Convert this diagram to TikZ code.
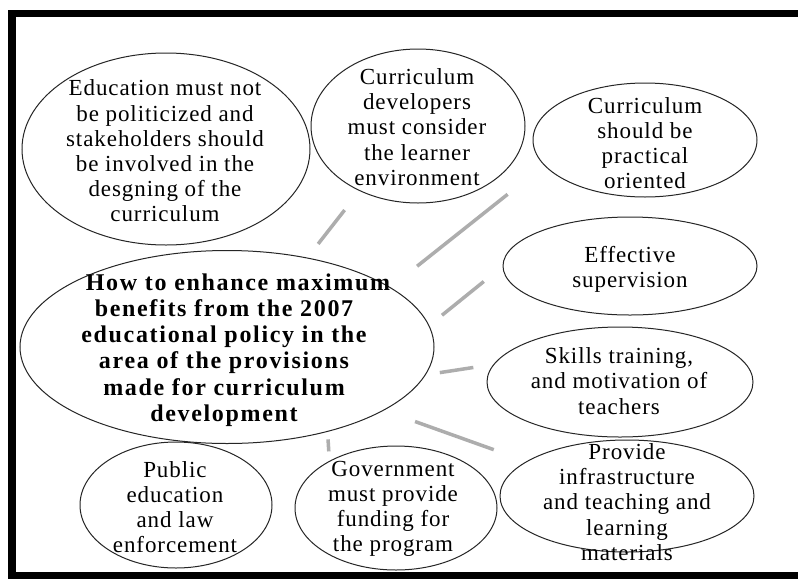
\documentclass[tikz,border=0pt]{standalone}
\usepackage{fontspec}
\setmainfont{Liberation Serif}
\usetikzlibrary{shapes.geometric}
\begin{document}
\begin{tikzpicture}[x=1pt,y=-1pt,
  bub/.style={draw=black!85, line width=1pt, ellipse, inner sep=0pt, outer sep=0pt},
  txt/.style={align=center, inner sep=0pt, font=\fontsize{23}{25.2}\selectfont\addfontfeature{LetterSpace=4}},
  maintxt/.style={align=center, inner sep=0pt, font=\fontsize{24}{26.3}\selectfont\bfseries\addfontfeature{LetterSpace=7}},
  conn/.style={draw=black!32, line width=3.5pt}]
\useasboundingbox (0,0) rectangle (798,579);
\fill[white] (0,0) rectangle (798,579);
% frame
\fill[black] (8,10) rectangle (798,17);
\fill[black] (8,10) rectangle (16,579);
\fill[black] (8,572) rectangle (798,579);
% ellipses
\node[bub, minimum width=288pt, minimum height=192pt] (e1) at (166,149) {};
\node[bub, minimum width=214pt, minimum height=154pt] (e2) at (418,126) {};
\node[bub, minimum width=224pt, minimum height=114pt] (e3) at (645,140) {};
\node[bub, minimum width=254pt, minimum height=98pt] (e4) at (630,266) {};
\node[bub, minimum width=266pt, minimum height=110pt] (e5) at (620,382) {};
\node[bub, minimum width=254pt, minimum height=112pt] (e6) at (627,496) {};
\node[bub, minimum width=414pt, minimum height=193pt] (m) at (227,347) {};
\node[bub, minimum width=192pt, minimum height=126pt] (e8) at (176,505) {};
\node[bub, minimum width=202pt, minimum height=124pt] (e9) at (396,508) {};
% texts
\node[txt] (t1) at (165,151) {Education must not\\be politicized and\\stakeholders should\\be involved in the\\desgning of the\\curriculum};
\node[txt] (t2) at (417,127) {Curriculum\\developers\\must consider\\the learner\\environment};
\node[txt] (t3) at (645,143) {Curriculum\\should be\\practical\\oriented};
\node[txt] (t4) at (630,269) {Effective\\supervision};
\node[txt] (t5) at (619,381) {Skills training,\\and motivation of\\teachers};
\node[txt] (t6) at (627,502) {Provide\\infrastructure\\and teaching and\\learning\\materials};
\node[maintxt] (tm) at (224,350) {\hspace*{28pt}How to enhance maximum\\benefits from the 2007\\educational policy in the\\area of the provisions\\made for curriculum\\development};
\node[txt] (t8) at (175,507) {Public\\education\\and law\\enforcement};
\node[txt] (t9) at (393,509) {Government\\must provide\\funding for\\the program};
% connectors
\draw[conn, shorten <=17.9pt, shorten >=24.7pt] (m.48.5) -- (e2.228.6);
\draw[conn, shorten <=34.4pt, shorten >=47pt] (m.20.5) -- (e3.194.6);
\draw[conn, shorten <=16.8pt, shorten >=24.7pt] (m.6) -- (e4.180.2);
\draw[conn, shorten <=14.8pt, shorten >=21pt] (m.352.7) -- (e5.172.8);
\draw[conn, shorten <=33.6pt, shorten >=35.2pt] (m.338.3) -- (e6.161.7);
\draw[conn, shorten <=8pt, shorten >=10pt] (m.320) -- (e9.145.9);
\end{tikzpicture}
\end{document}
